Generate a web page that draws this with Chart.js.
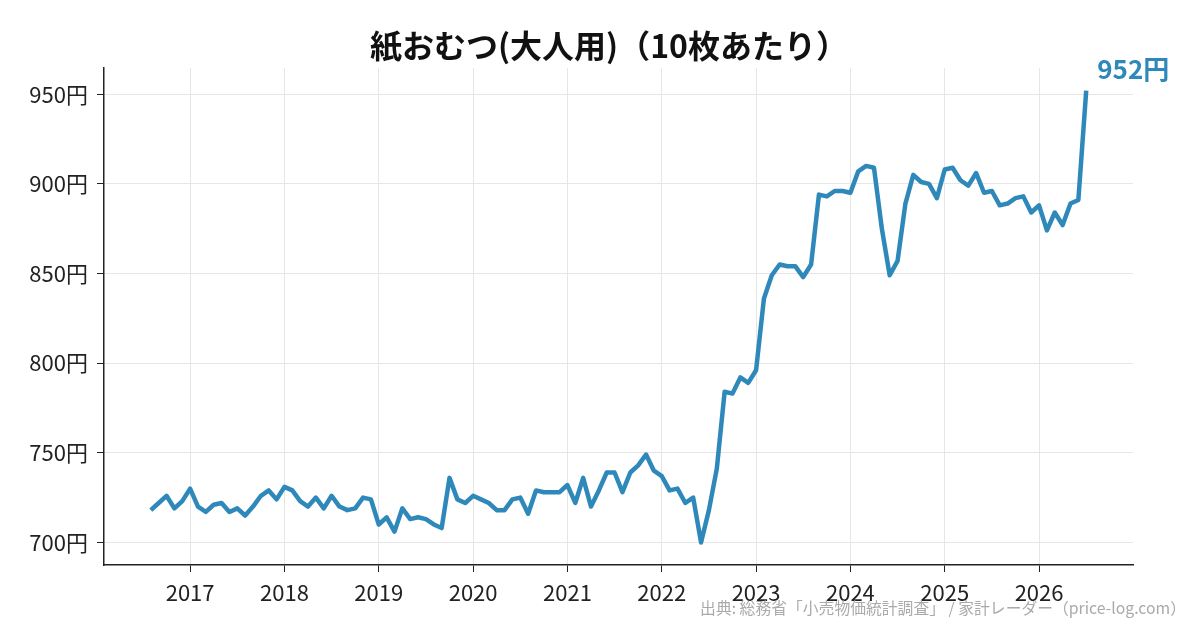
<!DOCTYPE html>
<html lang="ja">
<head>
<meta charset="utf-8">
<title>紙おむつ(大人用)（10枚あたり）</title>
<script src="https://cdn.jsdelivr.net/npm/chart.js@4.4.1/dist/chart.umd.min.js"></script>
<style>
  html, body { margin: 0; padding: 0; background: #fff; }
</style>
</head>
<body>
<canvas id="mycanvas" width="1200" height="630"></canvas>
<script>
// monthly price, Aug 2016 .. Jul 2026 (円 / 10枚)
var firstYear = 2016;
var firstMonth = 8;
var values = [
  718, 722, 726, 719, 723,                                   // 2016 Aug-Dec
  730, 720, 717, 721, 722, 717, 719, 715, 720, 726, 729, 724, // 2017
  731, 729, 723, 720, 725, 719, 726, 720, 718, 719, 725, 724, // 2018
  710, 714, 706, 719, 713, 714, 713, 710, 708, 736, 724, 722, // 2019
  726, 724, 722, 718, 718, 724, 725, 716, 729, 728, 728, 728, // 2020
  732, 722, 736, 720, 729, 739, 739, 728, 739, 743, 749, 740, // 2021
  737, 729, 730, 722, 725, 700, 718, 741, 784, 783, 792, 789, // 2022
  796, 836, 849, 855, 854, 854, 848, 855, 894, 893, 896, 896, // 2023
  895, 907, 910, 909, 875, 849, 857, 889, 905, 901, 900, 892, // 2024
  908, 909, 902, 899, 906, 895, 896, 888, 889, 892, 893, 884, // 2025
  888, 874, 884, 877, 889, 891, 952                           // 2026 Jan-Jul
];
var xTickYears = [2017, 2018, 2019, 2020, 2021, 2022, 2023, 2024, 2025, 2026];
var yTicks = [700, 750, 800, 850, 900, 950];

var titleText = '紙おむつ(大人用)（10枚あたり）';
var sourceText = '出典: 総務省「小売物価統計調査」 / 家計レーダー（price-log.com）';
var lineColor = '#2e89ba';
var font = '"Noto Sans CJK JP", "Noto Sans", sans-serif';

// month label and position on a year axis (Jan = whole year)
var months = [];
var points = [];
for (var i = 0; i < values.length; i++) {
  var m = firstMonth - 1 + i;
  var y = firstYear + Math.floor(m / 12);
  var mm = (m % 12) + 1;
  months.push(y + '-' + (mm < 10 ? '0' : '') + mm);
  points.push({ x: y + (mm - 1) / 12, y: values[i] });
}

var endLabel = {
  id: 'endLabel',
  afterDatasetsDraw: function(chart) {
    var meta = chart.getDatasetMeta(0);
    var pt = meta.data[meta.data.length - 1];
    var ctx = chart.ctx;
    ctx.save();
    ctx.font = 'bold 26px ' + font;
    ctx.fillStyle = lineColor;
    ctx.textAlign = 'left';
    ctx.textBaseline = 'middle';
    ctx.fillText(values[values.length - 1] + '円', pt.x + 11, pt.y - 21);
    ctx.restore();
  }
};

var texts = {
  id: 'texts',
  afterDraw: function(chart) {
    var ctx = chart.ctx;
    ctx.save();
    ctx.textBaseline = 'middle';
    ctx.font = 'bold 32px ' + font;
    ctx.fillStyle = '#111';
    ctx.textAlign = 'center';
    ctx.fillText(titleText, 609, 46);
    ctx.font = '15.8px ' + font;
    ctx.fillStyle = '#aaaaaa';
    ctx.textAlign = 'right';
    ctx.fillText(sourceText, 1186, 608);
    ctx.restore();
  }
};

var ctx = document.getElementById('mycanvas');

var lineChart = new Chart(ctx, {
  type: 'line',
  data: {
    labels: months,
    datasets: [
      {
        label: '紙おむつ(大人用)',
        data: points,
        borderColor: lineColor,
        backgroundColor: lineColor,
        borderWidth: 4.5,
        borderJoinStyle: 'round',
        pointRadius: 0,
        tension: 0,
        fill: false
      }
    ]
  },
  options: {
    responsive: false,
    animation: false,
    layout: { padding: { left: 0, right: 67, top: 68, bottom: 0 } },
    plugins: {
      legend: { display: false },
      tooltip: { enabled: false },
      title: { display: false }
    },
    scales: {
      x: {
        type: 'linear',
        min: 2016.087,
        max: 2026.996,
        afterBuildTicks: function(scale) {
          scale.ticks = xTickYears.map(function(v) { return { value: v }; });
        },
        afterFit: function(scale) { scale.height = 65; },
        ticks: {
          autoSkip: false,
          maxRotation: 0,
          padding: 7,
          color: '#222',
          font: { family: font, size: 22 },
          callback: function(v) { return String(v); }
        },
        grid: { color: '#e6e6e6', lineWidth: 1, tickLength: 7, tickColor: '#222' },
        border: { color: '#222', width: 1.5 }
      },
      y: {
        min: 687.4,
        max: 964.6,
        afterBuildTicks: function(scale) {
          scale.ticks = yTicks.map(function(v) { return { value: v }; });
        },
        afterFit: function(scale) { scale.width = 104; },
        ticks: {
          padding: 9,
          color: '#222',
          font: { family: font, size: 22 },
          callback: function(v) { return v + '円'; }
        },
        grid: { color: '#e6e6e6', lineWidth: 1, tickLength: 7, tickColor: '#222' },
        border: { color: '#222', width: 1.5 }
      }
    }
  },
  plugins: [endLabel, texts]
});
</script>
</body>
</html>
